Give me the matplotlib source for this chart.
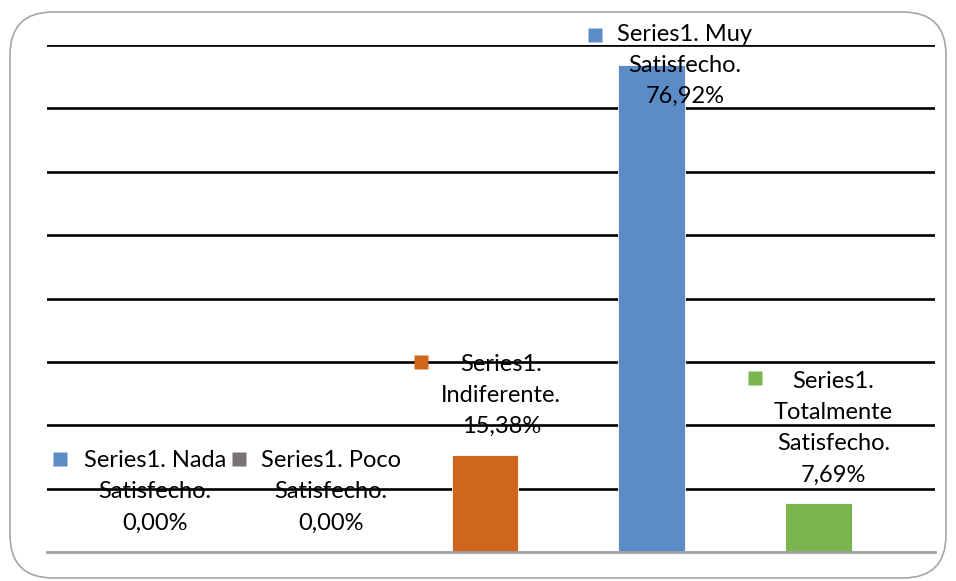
import matplotlib
matplotlib.use("Agg")
import matplotlib.pyplot as plt
from matplotlib.patches import FancyBboxPatch
from matplotlib.transforms import offset_copy

# ---- data ----
categories = ["Nada Satisfecho", "Poco Satisfecho", "Indiferente", "Muy Satisfecho", "Totalmente Satisfecho"]
values = [0.00, 0.00, 15.38, 76.92, 7.69]
series_name = "Series1"
label_texts = [
    "Series1. Nada\nSatisfecho.\n0,00%",
    "Series1. Poco\nSatisfecho.\n0,00%",
    "Series1.\nIndiferente.\n15,38%",
    "Series1. Muy\nSatisfecho.\n76,92%",
    "Series1.\nTotalmente\nSatisfecho.\n7,69%",
]
yticks = [0, 10, 20, 30, 40, 50, 60, 70, 80]

# ---- styles ----
bar_colors = ["#5B8CC8", "#787474", "#D0651E", "#5B8CC8", "#7AB650"]
# offsets (pixels) of label block centre and key square relative to bar top
text_off = [(3, 60), (12, 60), (16, 59), (33, -1), (15, 75)]
key_off = [(-92, 93), (-80, 93), (-64, 93), (-57, 30), (-63, 125)]

plt.rcParams['font.family'] = ['Lato', 'DejaVu Sans']

W, H = 956, 581
fig = plt.figure(figsize=(W / 100, H / 100), dpi=100)
ax = fig.add_axes([47 / W, 1 - 552 / H, (935 - 47) / W, (552 - 45) / H])

x = list(range(len(categories)))
ax.bar(x, values, width=0.40, color=bar_colors, edgecolor="#FFFFFF", linewidth=0.6, zorder=2)

ax.set_xlim(-0.63, 4.70)
ax.set_ylim(0, 80)
ax.set_yticks(yticks)
ax.set_xticks([])
ax.tick_params(left=False, labelleft=False)
for s in ["top", "left", "right"]:
    ax.spines[s].set_visible(False)
ax.spines["bottom"].set_color("#A0A0A0")
ax.spines["bottom"].set_linewidth(2)
ax.spines["bottom"].set_zorder(3)
ax.yaxis.grid(True, color="black", linewidth=1.9, zorder=1)
ax.set_axisbelow(True)
ax.get_ygridlines()[0].set_visible(False)

for i, (xi, v) in enumerate(zip(x, values)):
    dx, dy = text_off[i]
    ax.annotate(label_texts[i], xy=(xi, v), xytext=(dx, dy), textcoords="offset pixels",
                ha="center", va="center", fontsize=17, linespacing=1.6, color="black",
                zorder=5, annotation_clip=False)
    kx, ky = key_off[i]
    tr = offset_copy(ax.transData, fig=fig, x=kx, y=ky, units="dots")
    ax.plot([xi], [v], marker="s", markersize=9.5, color=bar_colors[i], mec="none",
            transform=tr, clip_on=False, zorder=5)

border = FancyBboxPatch((10 / W, 3 / H), (946 - 10) / W, (569 - 3) / H,
                        boxstyle="round,pad=0,rounding_size=0.045",
                        transform=fig.transFigure, facecolor="none",
                        edgecolor="#A6A6A6", linewidth=1.2, mutation_aspect=W / H)
fig.patches.append(border)

fig.savefig("out.png", dpi=100)
